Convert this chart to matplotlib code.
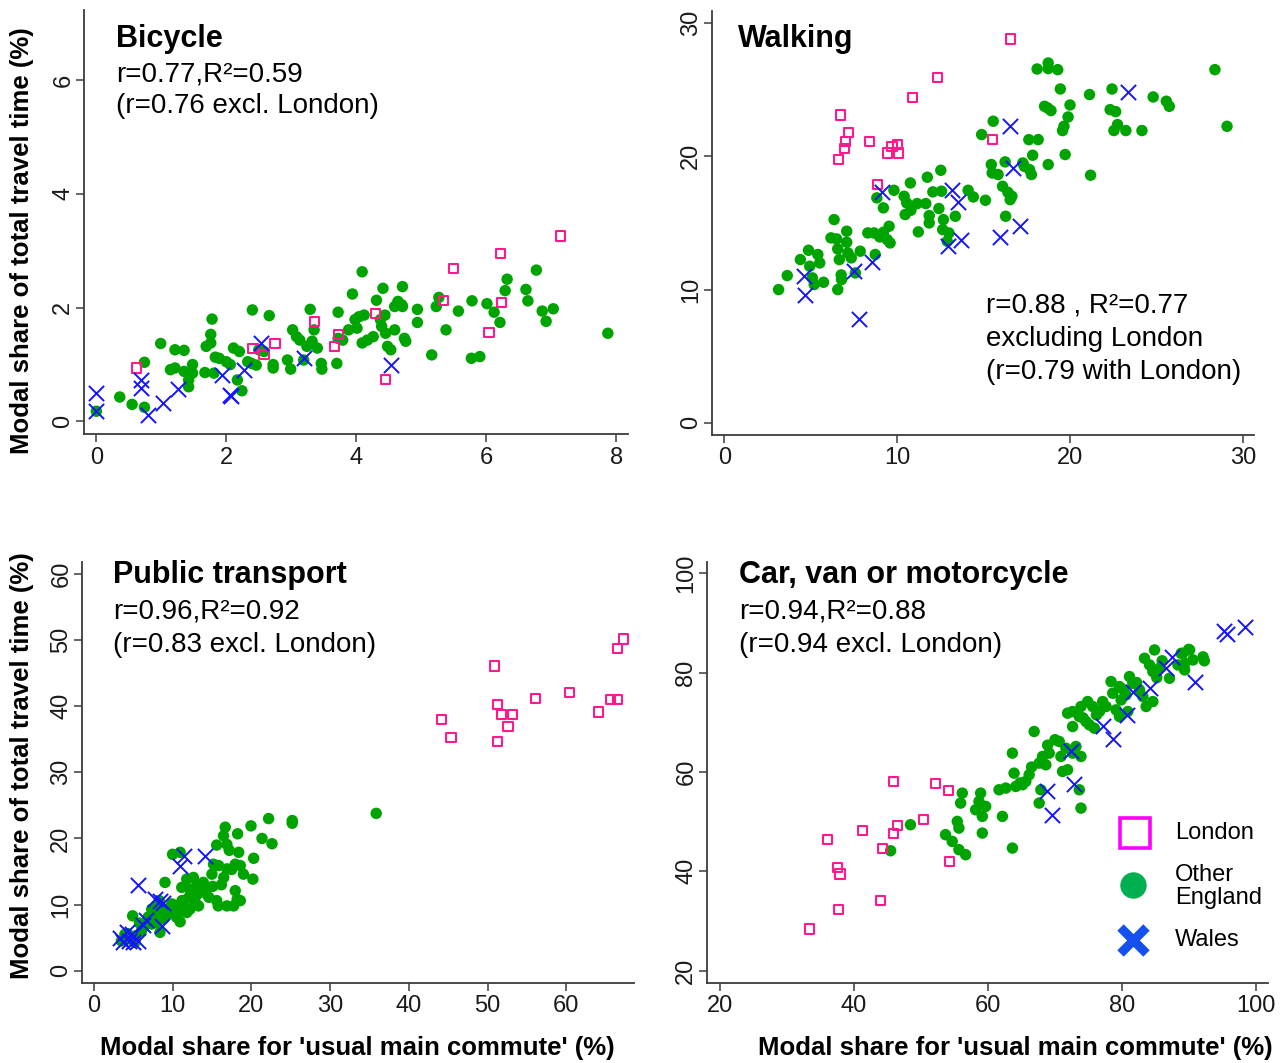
import numpy as np
import matplotlib.pyplot as plt

plt.rcParams['font.family'] = ['Liberation Sans', 'DejaVu Sans']

# colours
GREEN = '#00a400'
PINK = '#ff1a8c'
BLUE = '#1414ff'

# ---- Bicycle ----
bike_lon_x = [0.62, 3.36, 2.41, 2.58, 2.75, 3.66, 3.72, 4.29, 4.45, 5.34, 5.49, 6.22, 6.23, 6.04, 7.14]
bike_lon_y = [0.94, 1.76, 1.28, 1.17, 1.37, 1.32, 1.53, 1.90, 0.74, 2.13, 2.69, 2.95, 2.09, 1.56, 3.26]
bike_wal_x = [0.00, 0.00, 0.68, 0.68, 0.80, 1.03, 1.25, 1.94, 2.05, 2.07, 2.27, 2.53, 3.20, 4.53]
bike_wal_y = [0.50, 0.18, 0.73, 0.59, 0.12, 0.33, 0.57, 0.81, 0.47, 0.44, 0.90, 1.38, 1.11, 1.00]
bike_eng_x = [0.00, 0.36, 0.55, 0.74, 0.74, 0.99, 1.14, 1.21, 1.21, 1.35, 1.35, 1.42, 1.42, 1.48, 1.48,
              1.67, 1.69, 1.76, 1.76, 1.78, 1.81, 1.83, 1.89, 2.00, 2.06, 2.11, 2.20, 2.17, 2.24, 2.33,
              2.39, 2.40, 2.46, 2.50, 2.58, 2.66, 2.72, 2.72, 2.94, 2.99, 3.02, 3.08, 3.13, 3.19, 3.24,
              3.29, 3.32, 3.35, 3.40, 3.46, 3.47, 3.70, 3.72, 3.72, 3.79, 3.88, 3.94, 3.98, 4.01, 4.04,
              4.09, 4.09, 4.12, 4.17, 4.26, 4.31, 4.37, 4.39, 4.41, 4.44, 4.45, 4.48, 4.53, 4.59, 4.59,
              4.64, 4.70, 4.71, 4.71, 4.74, 4.76, 4.94, 4.94, 5.16, 5.23, 5.27, 5.38, 5.57, 5.77, 5.78,
              5.90, 6.01, 6.12, 6.21, 6.29, 6.32, 6.61, 6.64, 6.77, 6.86, 6.92, 7.03, 7.87]
bike_eng_y = [0.18, 0.43, 0.30, 0.25, 1.04, 1.37, 0.91, 0.94, 1.26, 1.25, 0.88, 0.61, 0.73, 1.00, 0.85,
              0.86, 1.32, 1.38, 1.53, 1.80, 0.85, 1.13, 1.11, 1.05, 1.00, 1.29, 1.23, 0.73, 0.54, 1.05,
              1.02, 1.96, 0.99, 1.26, 1.23, 1.86, 1.00, 0.94, 1.08, 0.92, 1.61, 1.49, 1.43, 1.08, 1.32,
              1.97, 1.41, 1.61, 1.29, 1.02, 0.92, 1.02, 1.92, 1.46, 1.43, 1.61, 2.24, 1.79, 1.64, 1.84,
              2.63, 1.38, 1.87, 1.43, 1.49, 2.13, 1.79, 1.67, 2.34, 1.87, 1.55, 1.32, 1.26, 1.61, 2.02,
              2.11, 2.05, 2.37, 2.02, 1.46, 1.41, 1.97, 1.74, 1.17, 2.02, 2.18, 1.61, 1.94, 1.11, 2.12,
              1.14, 2.07, 1.92, 1.74, 2.30, 2.50, 2.32, 2.12, 2.66, 1.94, 1.76, 1.98, 1.55]

# ---- Walking ----
walk_lon_x = [16.53, 12.35, 10.87, 6.74, 7.17, 7.00, 6.95, 6.61, 8.40, 9.42, 9.70, 10.00, 10.07, 15.53, 8.84]
walk_lon_y = [28.8, 25.9, 24.4, 23.1, 21.8, 21.1, 20.6, 19.75, 21.1, 20.25, 20.75, 20.9, 20.25, 21.25, 17.9]
walk_wal_x = [23.35, 16.53, 16.68, 9.14, 13.17, 13.49, 13.69, 12.93, 15.92, 17.11, 8.56, 7.52, 4.61, 4.66, 7.80]
walk_wal_y = [24.85, 22.25, 19.1, 17.3, 17.5, 16.6, 13.75, 13.25, 13.95, 14.75, 12.1, 11.4, 11.0, 9.6, 7.8]
walk_eng_x = [3.14, 3.64, 4.40, 4.87, 4.94, 5.09, 5.20, 5.41, 5.52, 5.74, 6.35, 6.17, 6.50, 6.56, 6.65,
              6.76, 6.78, 6.56, 7.08, 7.08, 7.15, 7.34, 7.58, 7.86, 8.30, 8.66, 8.73, 8.82, 8.99, 9.20,
              9.20, 9.42, 9.53, 9.59, 9.81, 10.40, 10.46, 10.55, 10.76, 10.79, 11.15, 11.22, 11.65, 11.74, 11.85,
              11.85, 12.06, 12.41, 12.52, 12.56, 12.67, 12.63, 12.89, 12.99, 13.36, 14.10, 14.40, 14.88, 15.10, 15.44,
              15.49, 15.55, 15.83, 16.09, 16.24, 16.27, 16.40, 16.53, 16.63, 17.26, 17.35, 17.61, 17.65, 17.76, 17.83,
              18.15, 18.09, 18.73, 18.73, 19.28, 18.73, 18.52, 18.69, 18.89, 19.43, 19.56, 19.64, 19.71, 19.88, 19.99,
              21.12, 21.18, 22.42, 22.31, 22.63, 22.53, 22.74, 23.22, 24.15, 24.80, 25.56, 25.73, 28.37, 29.07]
walk_eng_y = [10.0, 11.05, 12.25, 12.95, 11.75, 10.88, 10.38, 12.63, 12.0, 10.55, 15.25, 13.88, 13.8, 13.05, 12.25,
              11.1, 10.75, 10.0, 14.38, 13.55, 12.75, 12.38, 11.25, 12.88, 14.25, 14.25, 12.63, 16.88, 13.95, 16.13,
              14.3, 13.75, 14.75, 13.5, 17.45, 17.0, 15.63, 16.5, 18.0, 15.95, 16.45, 14.33, 16.45, 18.43, 15.55,
              15.0, 17.33, 16.08, 18.95, 17.38, 15.25, 14.5, 13.63, 14.25, 15.5, 17.45, 16.95, 21.63, 16.7, 19.38,
              18.75, 22.63, 18.63, 17.75, 19.58, 15.5, 17.3, 16.75, 17.0, 19.5, 19.25, 21.25, 19.0, 18.63, 20.08,
              21.25, 26.55, 27.0, 26.58, 26.5, 19.38, 23.75, 23.63, 23.43, 25.05, 21.93, 22.25, 20.13, 22.95, 23.85,
              24.63, 18.58, 25.05, 23.5, 23.35, 21.93, 22.38, 21.93, 21.93, 24.45, 24.13, 23.75, 26.5, 22.25]

# ---- Public transport ----
pt_lon_x = [44.12, 45.35, 50.93, 51.29, 51.75, 51.29, 52.61, 53.2, 56.06, 60.37, 64.09, 65.59, 66.5, 66.46, 67.27]
pt_lon_y = [38.03, 35.26, 46.08, 40.24, 38.73, 34.61, 36.97, 38.73, 41.15, 42.05, 39.13, 41.0, 41.0, 48.69, 50.15]
pt_wal_x = [11.4, 10.96, 14.1, 5.65, 7.8, 8.4, 8.8, 6.6, 6.2, 8.6, 3.3, 4.2, 4.8, 5.0, 5.6, 3.7, 4.5]
pt_wal_y = [17.4, 15.9, 17.4, 12.95, 10.9, 10.6, 10.3, 7.6, 6.9, 6.8, 5.0, 5.8, 5.5, 4.3, 4.5, 4.3, 4.5]
pt_eng_x = [22.2, 19.96, 16.69, 16.47, 18.26, 21.36, 22.63, 15.6, 16.9, 18.4, 20.3, 20.2, 17.96, 16.9, 15.84,
            15.2, 15.0, 16.5, 17.5, 18.6, 10.0, 10.96, 9.04, 11.17, 11.8, 12.65, 13.1, 13.5, 15.1, 15.8,
            16.9, 17.75, 18.2, 18.6, 17.96, 15.6, 14.6, 13.3, 12.9, 12.2, 11.4, 10.7, 10.5, 10.96, 9.9,
            9.5, 8.8, 8.3, 7.9, 7.35, 6.9, 6.5, 6.07, 4.93, 5.4, 4.6, 3.95, 3.5, 5.2, 8.4,
            8.07, 7.35, 9.04, 11.8, 12.2, 13.9, 25.2, 25.2, 35.86,
            12.0, 11.2, 10.2, 9.6, 8.9, 7.6, 6.3, 5.8, 4.3, 14.2, 13.0, 16.2, 19.0, 17.2]
pt_eng_y = [23.0, 21.9, 21.7, 20.4, 20.7, 20.0, 19.2, 19.0, 19.1, 17.9, 17.0, 13.85, 16.1, 15.4, 15.9,
            16.1, 14.6, 14.1, 15.3, 15.9, 17.6, 17.9, 13.35, 12.6, 13.85, 14.1, 13.1, 11.8, 12.75, 9.8,
            9.8, 9.8, 10.8, 10.6, 12.1, 10.6, 11.1, 9.8, 10.3, 9.3, 9.8, 8.8, 8.1, 7.4, 10.1,
            8.6, 8.6, 10.6, 9.8, 9.3, 8.1, 7.05, 6.05, 8.3, 5.3, 4.8, 5.5, 4.5, 4.3, 5.8,
            7.3, 7.05, 9.3, 8.8, 12.3, 13.35, 22.7, 22.3, 23.79,
            11.0, 10.6, 9.9, 9.2, 7.9, 8.6, 6.6, 7.2, 5.6, 12.0, 11.4, 13.0, 14.6, 18.2]

# ---- Car, van or motorcycle ----
car_lon_x = [45.85, 52.22, 54.06, 50.32, 46.52, 45.85, 41.27, 36.08, 44.29, 54.23, 37.48, 37.92, 44.01, 37.64, 33.34]
car_lon_y = [58.08, 57.61, 56.27, 50.51, 49.17, 47.69, 48.16, 46.35, 44.61, 42.0, 40.78, 39.44, 34.08, 32.27, 28.38]
car_wal_x = [98.34, 95.27, 95.65, 87.45, 86.61, 84.21, 81.59, 90.97, 80.75, 77.12, 78.68, 72.37, 72.82, 68.74, 69.58]
car_wal_y = [89.26, 88.45, 87.72, 83.22, 80.88, 76.86, 76.19, 78.2, 71.49, 69.28, 66.6, 64.32, 57.61, 56.27, 51.38]
car_eng_x = [84.86, 83.36, 84.11, 84.61, 85.61, 88.36, 89.1, 90.1, 90.6, 89.35, 87.1, 81.12, 81.62, 78.37, 79.62,
             80.62, 79.87, 78.62, 77.12, 77.62, 76.63, 75.63, 74.88, 73.88, 72.63, 71.88, 73.63, 74.63, 72.63, 75.88,
             75.13, 79.12, 79.62, 80.87, 83.61, 84.61, 82.62, 83.12, 66.89, 70.63, 71.63, 73.13, 73.88, 72.63, 70.88,
             69.14, 68.14, 67.64, 68.64, 71.13, 71.88, 66.14, 65.64, 65.14, 63.89, 64.14, 63.64, 62.65, 61.65, 67.64,
             67.89, 73.88, 73.63, 63.64, 58.15, 58.9, 58.65, 59.65, 56.16, 55.91, 55.41, 55.66, 53.66, 54.66, 55.66,
             56.66, 59.15, 59.15, 62.15, 48.42, 45.46, 92.1, 92.3, 89.4, 88.84, 89.96,
             86.0, 85.2, 82.2, 80.2, 76.2, 74.2, 70.0, 68.9, 64.8, 66.5]
car_eng_y = [84.59, 82.91, 81.57, 80.23, 80.9, 81.57, 83.92, 84.59, 82.58, 80.57, 78.89, 79.22, 77.88, 78.22, 77.21,
             75.54, 74.53, 75.87, 74.19, 73.19, 72.18, 73.19, 74.19, 73.19, 72.18, 71.85, 71.18, 70.17, 69.16, 68.83,
             69.5, 72.52, 71.18, 72.18, 73.19, 74.19, 76.54, 75.2, 68.16, 66.15, 64.8, 65.14, 63.13, 63.8, 63.13,
             63.8, 63.13, 61.79, 61.45, 60.11, 60.45, 59.44, 58.1, 57.43, 59.77, 57.09, 63.8, 56.76, 56.42, 53.74,
             56.42, 52.73, 56.42, 44.68, 52.4, 55.75, 54.07, 53.07, 55.75, 53.74, 50.05, 48.71, 47.37, 46.02, 44.35,
             43.34, 51.06, 47.7, 51.06, 49.38, 44.14, 83.2, 82.4, 81.88, 83.9, 84.7,
             82.4, 79.0, 78.0, 76.6, 71.5, 70.9, 66.5, 65.4, 57.8, 61.0]

W, H = 1286, 1063
fig = plt.figure(figsize=(W / 100, H / 100), dpi=100)


def px_axes(left, top, right, bottom):
    return fig.add_axes([left / W, 1 - bottom / H, (right - left) / W, (bottom - top) / H])


def style(ax, xlim, ylim, xt, yt):
    ax.set_xlim(*xlim)
    ax.set_ylim(*ylim)
    ax.set_xticks(xt)
    ax.set_yticks(yt)
    for s in ['top', 'right']:
        ax.spines[s].set_visible(False)
    for s in ['left', 'bottom']:
        ax.spines[s].set_color('#3c3c3c')
        ax.spines[s].set_linewidth(1.3)
    ax.tick_params(direction='out', length=6, width=1.1, color='#3c3c3c',
                   labelsize=17, labelcolor='#1a1a1a')
    ax.tick_params(axis='x', pad=3)
    ax.tick_params(axis='y', pad=1)
    for lab in ax.get_yticklabels():
        lab.set_rotation(90)
        lab.set_va('center')


def draw(ax, ex, ey, lx, ly, wx, wy):
    ax.scatter(ex, ey, s=68, c=GREEN, edgecolors='none', zorder=2, clip_on=False)
    ax.scatter(lx, ly, s=44, marker='s', facecolors='none', edgecolors=PINK, linewidths=1.5, zorder=3, clip_on=False)
    ax.scatter(wx, wy, s=120, marker='x', c=BLUE, linewidths=1.4, zorder=4, clip_on=False)


def stats(ax, x, ys, title, lines):
    if title:
        ax.text(x, ys[0], title, transform=ax.transAxes, fontsize=22, fontweight='bold', va='baseline')
        ys = ys[1:]
    for y, t in zip(ys, lines):
        ax.text(x, y, t, transform=ax.transAxes, fontsize=20, va='baseline')


# Bicycle
ax1 = px_axes(84, 10, 628, 434)
draw(ax1, bike_eng_x, bike_eng_y, bike_lon_x, bike_lon_y, bike_wal_x, bike_wal_y)
style(ax1, (-0.19, 8.18), (-0.22, 7.23), [0, 2, 4, 6, 8], [0, 2, 4, 6])
stats(ax1, 0.059, [0.913, 0.831, 0.756], 'Bicycle', ['r=0.77,R²=0.59', '(r=0.76 excl. London)'])

# Walking
ax2 = px_axes(712, 11, 1254, 435)
draw(ax2, walk_eng_x, walk_eng_y, walk_lon_x, walk_lon_y, walk_wal_x, walk_wal_y)
style(ax2, (-0.71, 30.63), (-0.91, 30.9), [0, 10, 20, 30], [0, 10, 20, 30])
stats(ax2, 0.0486, [0.916], 'Walking', [])
stats(ax2, 0.505, [0.288, 0.209, 0.131], None,
      ['r=0.88 , R²=0.77', 'excluding London', '(r=0.79 with London)'])

# Public transport
ax3 = px_axes(82, 562, 634, 983)
draw(ax3, pt_eng_x, pt_eng_y, pt_lon_x, pt_lon_y, pt_wal_x, pt_wal_y)
style(ax3, (-1.5, 68.6), (-1.86, 61.8), [0, 10, 20, 30, 40, 50, 60], [0, 10, 20, 30, 40, 50, 60])
stats(ax3, 0.0567, [0.9495, 0.8665, 0.7865], 'Public transport', ['r=0.96,R²=0.92', '(r=0.83 excl. London)'])

# Car
ax4 = px_axes(707, 562, 1268, 983)
draw(ax4, car_eng_x, car_eng_y, car_lon_x, car_lon_y, car_wal_x, car_wal_y)
style(ax4, (18.05, 101.8), (17.5, 102.3), [20, 40, 60, 80, 100], [20, 40, 60, 80, 100])
stats(ax4, 0.0565, [0.9493, 0.8662, 0.7862], 'Car, van or motorcycle', ['r=0.94,R²=0.88', '(r=0.94 excl. London)'])

# legend drawn inside the car panel
ax4.plot([0.7624], [0.356], marker='s', ms=22, mfc='none', mec='#ff00ff', mew=2.6,
         transform=ax4.transAxes, clip_on=False)
ax4.plot([0.7597], [0.2333], marker='o', ms=19, mfc='#00b050', mec='none',
         transform=ax4.transAxes, clip_on=False)
ax4.plot([0.7588], [0.1028], marker='x', ms=19, mec='#1450f0', mew=6.5,
         transform=ax4.transAxes, clip_on=False)
ax4.text(0.8337, 0.356, 'London', transform=ax4.transAxes, fontsize=17, va='center')
ax4.text(0.8337, 0.2286, 'Other\nEngland', transform=ax4.transAxes, fontsize=17, va='center', linespacing=1.05)
ax4.text(0.8337, 0.1028, 'Wales', transform=ax4.transAxes, fontsize=17, va='center')

# axis titles
ylab = 'Modal share of total travel time (%)'
xlab = "Modal share for 'usual main commute' (%)"
fig.text(22 / W, 1 - 241 / H, ylab, rotation=90, fontsize=18.5, fontweight='bold', ha='center', va='center')
fig.text(22 / W, 1 - 766 / H, ylab, rotation=90, fontsize=18.5, fontweight='bold', ha='center', va='center')
fig.text(357 / W, 1 - 1048 / H, xlab, fontsize=18.5, fontweight='bold', ha='center', va='center')
fig.text(1015 / W, 1 - 1048 / H, xlab, fontsize=18.5, fontweight='bold', ha='center', va='center')

fig.savefig('out.png', dpi=100)
